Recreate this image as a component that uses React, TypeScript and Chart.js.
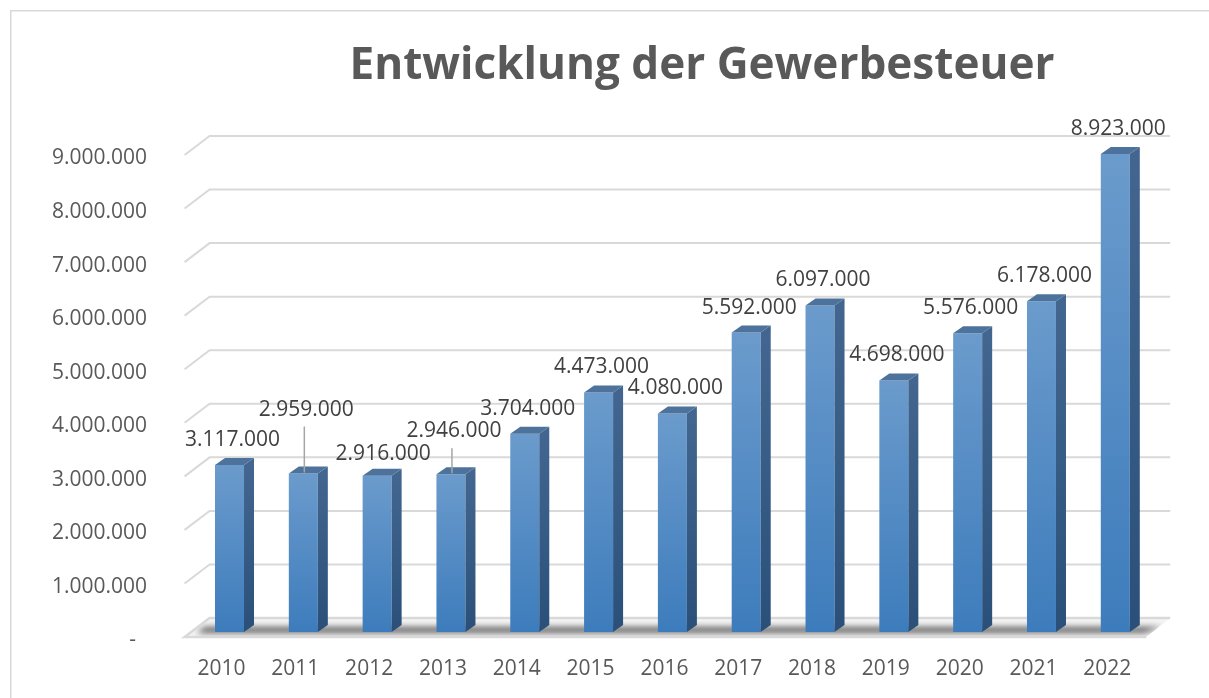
import React, { useEffect, useRef } from 'react';
import { Chart, registerables } from 'chart.js';

Chart.register(...registerables);

const TITLE = 'Entwicklung der Gewerbesteuer';
const YEARS = ['2010', '2011', '2012', '2013', '2014', '2015', '2016', '2017', '2018', '2019', '2020', '2021', '2022'];
const VALUES = [3117000, 2959000, 2916000, 2946000, 3704000, 4473000, 4080000, 5592000, 6097000, 4698000, 5576000, 6178000, 8923000];
const Y_MIN = 0;
const Y_MAX = 9000000;
const Y_STEP = 1000000;

const FONT = '"Open Sans", "DejaVu Sans", sans-serif';
const GRID = '#d9d9d9';

// label placement tweaks (positions only)
const LABEL_LIFT: Record<number, number> = { 1: 65, 2: 23, 3: 44 };
const LABEL_SHIFT: Record<number, number> = { 2: 6 };
const LEADER_LINES = [1, 3];

const W = 1209;
const H = 698;

function fmt(v: number): string {
  return String(Math.round(v)).replace(/\B(?=(\d{3})+(?!\d))/g, '.');
}

const scene3d = {
  id: 'scene3d',
  beforeDatasetsDraw(chart: any) {
    const ctx = chart.ctx as CanvasRenderingContext2D;
    const area = chart.chartArea;
    const ys = chart.scales.y;
    // frame (top and left edges only; the rest lies outside the view)
    ctx.save();
    ctx.strokeStyle = GRID;
    ctx.lineWidth = 1.5;
    ctx.beginPath();
    ctx.moveTo(10.75, H + 5);
    ctx.lineTo(10.75, 10.75);
    ctx.lineTo(W + 5, 10.75);
    ctx.stroke();

    // title
    ctx.font = `bold 44px ${FONT}`;
    const tw = ctx.measureText(TITLE).width;
    const size = (44 * 705) / tw;
    ctx.font = `bold ${size}px ${FONT}`;
    ctx.fillStyle = '#595959';
    ctx.textAlign = 'center';
    ctx.textBaseline = 'alphabetic';
    ctx.fillText(TITLE, 702, 79);

    const frontLeft = area.left - 8;
    const backLeft = frontLeft + 25;
    const backRight = area.right + 18;
    const frontRight = backRight - 24;

    // walls / gridlines
    ctx.strokeStyle = GRID;
    ctx.lineWidth = 2;
    for (let v = Y_MIN + Y_STEP; v <= Y_MAX; v += Y_STEP) {
      const y = ys.getPixelForValue(v);
      ctx.beginPath();
      ctx.moveTo(frontLeft, y + 5);
      ctx.lineTo(backLeft, y - 14);
      ctx.lineTo(backRight, y - 14);
      ctx.stroke();
    }

    // floor
    const y0 = ys.getPixelForValue(0);
    const fy = y0 + 5;
    const by = y0 - 14;
    ctx.beginPath();
    ctx.moveTo(frontLeft, fy);
    ctx.lineTo(backLeft, by);
    ctx.lineTo(backRight, by);
    ctx.lineTo(frontRight, fy);
    ctx.closePath();
    ctx.fillStyle = '#f4f4f4';
    ctx.fill();
    ctx.save();
    ctx.clip();
    ctx.filter = 'blur(3px)';
    ctx.fillStyle = 'rgba(55,55,55,0.8)';
    ctx.beginPath();
    ctx.moveTo(frontLeft + 12, y0 + 1);
    ctx.lineTo(frontLeft + 20, y0 - 5);
    ctx.lineTo(backRight - 8, y0 - 5);
    ctx.lineTo(frontRight - 2, y0 + 1);
    ctx.closePath();
    ctx.fill();
    ctx.restore();
    ctx.beginPath();
    ctx.moveTo(frontRight, fy);
    ctx.lineTo(frontLeft, fy);
    ctx.lineTo(backLeft, by);
    ctx.lineTo(backRight, by);
    ctx.lineWidth = 2.5;
    ctx.strokeStyle = GRID;
    ctx.stroke();
    ctx.restore();
  },
  afterDatasetsDraw(chart: any) {
    const ctx = chart.ctx as CanvasRenderingContext2D;
    const meta = chart.getDatasetMeta(0);
    const DX = 10;
    const DY = 7;
    ctx.save();
    meta.data.forEach((bar: any, i: number) => {
      const { x, y, base, width } = bar.getProps(['x', 'y', 'base', 'width'], true);
      const l = x - width / 2;
      const r = x + width / 2;
      // side
      const gs = ctx.createLinearGradient(0, y, 0, base);
      gs.addColorStop(0, '#42668f');
      gs.addColorStop(1, '#2a5079');
      ctx.fillStyle = gs;
      ctx.beginPath();
      ctx.moveTo(r, y);
      ctx.lineTo(r + DX, y - DY);
      ctx.lineTo(r + DX, base - DY);
      ctx.lineTo(r, base);
      ctx.closePath();
      ctx.fill();
      // top
      ctx.fillStyle = '#4d739c';
      ctx.beginPath();
      ctx.moveTo(l, y);
      ctx.lineTo(l + DX, y - DY);
      ctx.lineTo(r + DX, y - DY);
      ctx.lineTo(r, y);
      ctx.closePath();
      ctx.fill();

      // data label
      const lift = LABEL_LIFT[i] ?? 26;
      const shift = LABEL_SHIFT[i] ?? 3;
      const ly = y - lift;
      ctx.font = `21px ${FONT}`;
      ctx.fillStyle = '#404040';
      ctx.textAlign = 'center';
      ctx.textBaseline = 'middle';
      ctx.fillText(fmt(VALUES[i]), x + shift, ly + 1);
      if (LEADER_LINES.includes(i)) {
        ctx.strokeStyle = '#a6a6a6';
        ctx.lineWidth = 1.5;
        ctx.beginPath();
        ctx.moveTo(x + 1, ly + 18);
        ctx.lineTo(x + 1, y - 1);
        ctx.stroke();
      }
    });
    ctx.restore();
  },
};

export default function App() {
  const ref = useRef<HTMLCanvasElement | null>(null);
  useEffect(() => {
    if (!ref.current) return;
    const prevMargin = document.body.style.margin;
    const prevOverflow = document.body.style.overflow;
    document.body.style.margin = '0';
    document.body.style.overflow = 'hidden';
    const chart = new Chart(ref.current, {
      type: 'bar',
      data: {
        labels: YEARS,
        datasets: [
          {
            data: VALUES,
            categoryPercentage: 1,
            barPercentage: 0.393,
            borderWidth: 0,
            backgroundColor: (c: any) => {
              const ch = c.chart;
              const ys = ch.scales && ch.scales.y;
              if (c.type !== 'data' || !ys) return '#5289c4';
              const top = ys.getPixelForValue(c.raw);
              const bot = ys.getPixelForValue(0);
              if (!Number.isFinite(top) || !Number.isFinite(bot) || top === bot) return '#5289c4';
              const g = ch.ctx.createLinearGradient(0, top, 0, bot);
              g.addColorStop(0, '#6b9bcc');
              g.addColorStop(1, '#3d7cbc');
              return g;
            },
          },
        ],
      },
      options: {
        responsive: false,
        animation: false,
        events: [],
        layout: { padding: { top: 150, right: 56.8, left: 0, bottom: 0 } },
        plugins: {
          legend: { display: false },
          title: { display: false },
          tooltip: { enabled: false },
        },
        scales: {
          x: {
            grid: { display: false, drawTicks: false },
            border: { display: false },
            ticks: {
              color: '#595959',
              font: { family: FONT, size: 21 },
              padding: 24,
              labelOffset: -8,
              maxRotation: 0,
              autoSkip: false,
            },
            afterFit: (s: any) => {
              s.height = 66;
            },
          },
          y: {
            min: Y_MIN,
            max: Y_MAX,
            grid: { display: false, drawTicks: false },
            border: { display: false },
            ticks: {
              stepSize: Y_STEP,
              color: '#595959',
              font: { family: FONT, size: 21 },
              padding: 45.6,
              labelOffset: 8.5,
              callback: (v: any) => (Number(v) === 0 ? '-  ' : fmt(Number(v))),
            },
            afterFit: (s: any) => {
              s.width = 192.6;
            },
          },
        },
      },
      plugins: [scene3d],
    });
    return () => {
      chart.destroy();
      document.body.style.margin = prevMargin;
      document.body.style.overflow = prevOverflow;
    };
  }, []);
  return (
    <div style={{ width: W, height: H }}>
      <canvas ref={ref} width={W} height={H} style={{ display: 'block' }} />
    </div>
  );
}
